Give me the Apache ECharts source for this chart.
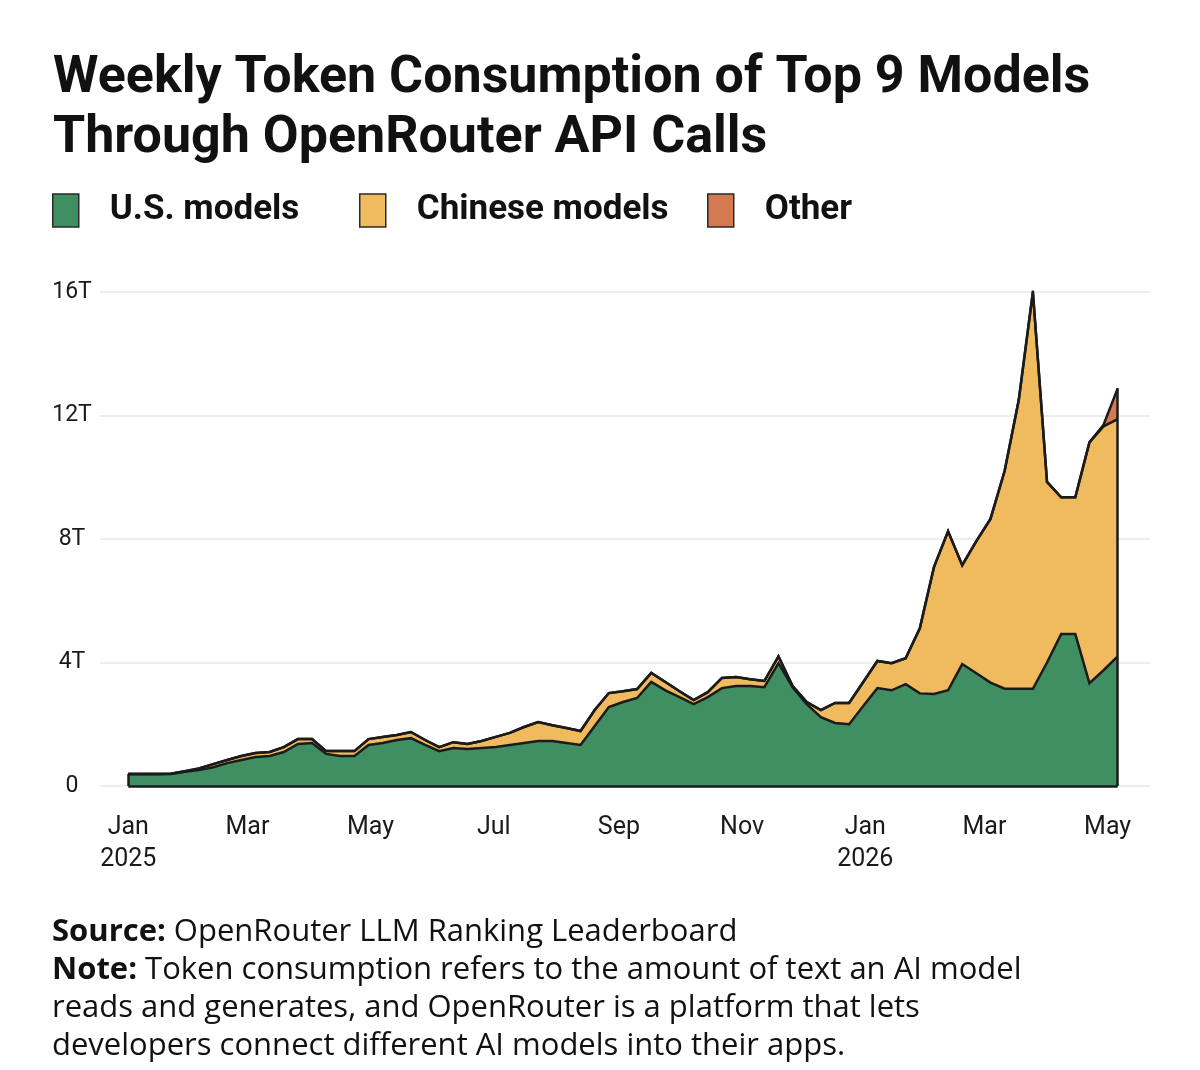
<!DOCTYPE html>
<html>
<head>
<meta charset="utf-8">
<script src="https://cdn.jsdelivr.net/npm/echarts@6/dist/echarts.min.js"></script>
<style>
  html, body { margin: 0; padding: 0; background: #fff; }
  #chart { width: 1200px; height: 1070px; }
</style>
</head>
<body>
<div id="chart"></div>
<script>
// weekly buckets (week starting)
const weeks = [
  '2025-01-01','2025-01-08','2025-01-15','2025-01-22','2025-01-29','2025-02-05','2025-02-12','2025-02-19',
  '2025-02-26','2025-03-05','2025-03-12','2025-03-19','2025-03-26','2025-04-02','2025-04-09','2025-04-16',
  '2025-04-23','2025-04-30','2025-05-07','2025-05-14','2025-05-21','2025-05-28','2025-06-04','2025-06-11',
  '2025-06-18','2025-06-25','2025-07-02','2025-07-09','2025-07-16','2025-07-23','2025-07-30','2025-08-06',
  '2025-08-13','2025-08-20','2025-08-27','2025-09-03','2025-09-10','2025-09-17','2025-09-24','2025-10-01',
  '2025-10-08','2025-10-15','2025-10-22','2025-10-29','2025-11-05','2025-11-12','2025-11-19','2025-11-26',
  '2025-12-03','2025-12-10','2025-12-17','2025-12-24','2025-12-31','2026-01-07','2026-01-14','2026-01-21',
  '2026-01-28','2026-02-04','2026-02-11','2026-02-18','2026-02-25','2026-03-04','2026-03-11','2026-03-18',
  '2026-03-25','2026-04-01','2026-04-08','2026-04-15','2026-04-22','2026-04-29','2026-05-06'
];

// trillions of tokens
const usModels = [
  0.39, 0.39, 0.39, 0.39, 0.46, 0.52, 0.61, 0.74, 0.84, 0.94, 0.97, 1.10, 1.36, 1.39, 1.04, 0.97,
  0.97, 1.33, 1.39, 1.49, 1.55, 1.33, 1.13, 1.23, 1.20, 1.23, 1.26, 1.33, 1.39, 1.46, 1.46, 1.39,
  1.33, 1.94, 2.56, 2.72, 2.85, 3.37, 3.10, 2.88, 2.65, 2.88, 3.17, 3.24, 3.24, 3.20, 3.98, 3.20,
  2.65, 2.23, 2.04, 2.00, 2.59, 3.17, 3.10, 3.30, 3.00, 2.98, 3.10, 3.95, 3.65, 3.35, 3.15, 3.15,
  3.15, 4.00, 4.92, 4.92, 3.33, 3.75, 4.20
];
const chineseModels = [
  0.00, 0.00, 0.00, 0.01, 0.02, 0.05, 0.10, 0.10, 0.13, 0.13, 0.13, 0.16, 0.16, 0.13, 0.09, 0.16,
  0.16, 0.19, 0.20, 0.16, 0.20, 0.16, 0.13, 0.19, 0.16, 0.23, 0.33, 0.39, 0.52, 0.61, 0.51, 0.49,
  0.45, 0.52, 0.45, 0.35, 0.29, 0.29, 0.27, 0.19, 0.13, 0.16, 0.33, 0.29, 0.22, 0.20, 0.22, 0.04,
  0.07, 0.23, 0.65, 0.69, 0.78, 0.88, 0.88, 0.84, 2.11, 4.11, 5.15, 3.20, 4.28, 5.30, 7.05, 9.35,
  12.85, 5.85, 4.43, 4.43, 7.80, 7.90, 7.68
];
const otherModels = [
  0, 0, 0, 0, 0, 0, 0, 0, 0, 0, 0, 0, 0, 0, 0, 0,
  0, 0, 0, 0, 0, 0, 0, 0, 0, 0, 0, 0, 0, 0, 0, 0,
  0, 0, 0, 0, 0, 0, 0, 0, 0, 0, 0, 0, 0, 0, 0, 0,
  0, 0, 0, 0, 0, 0, 0, 0, 0, 0, 0, 0, 0, 0, 0, 0,
  0, 0, 0, 0, 0, 0.05, 1.00
];

const tickDates = ['2025-01-01','2025-03-01','2025-05-01','2025-07-01','2025-09-01','2025-11-01','2026-01-01','2026-03-01','2026-05-01'];
const tickLabels = ['Jan\n2025','Mar','May','Jul','Sep','Nov','Jan\n2026','Mar','May'];
const yTicks = [0, 4, 8, 12, 16];

const GREEN = '#3f8f63';
const TAN = '#f0bb5f';
const RUST = '#d47a52';
const INK = '#1b1b1b';
const FONT = 'Roboto, "Noto Sans", sans-serif';

const X_MIN = '2024-12-18';
const X_MAX = '2026-05-22';

const toTime = d => +echarts.time.parse(d);
const tickTimes = tickDates.map(toTime);
const last = weeks.length - 1;
const firstTotal = usModels[0] + chineseModels[0] + otherModels[0];
const lastTotal = usModels[last] + chineseModels[last] + otherModels[last];

function pairs(values) {
  return weeks.map((w, i) => [w, values[i]]);
}

function areaSeries(name, values, color) {
  return {
    name: name,
    type: 'line',
    stack: 'total',
    xAxisIndex: 0,
    data: pairs(values),
    showSymbol: false,
    symbol: 'none',
    itemStyle: { color: color },
    lineStyle: { color: INK, width: 2.5, join: 'miter' },
    areaStyle: { color: color, opacity: 1 },
    emphasis: { disabled: true }
  };
}

const series = [
  areaSeries('U.S. models', usModels, GREEN),
  areaSeries('Chinese models', chineseModels, TAN),
  areaSeries('Other', otherModels, RUST)
];

// outline the left, right and bottom edges of the stacked area
series[2].markLine = {
  silent: true,
  symbol: 'none',
  label: { show: false },
  lineStyle: { color: INK, width: 2.5, type: 'solid' },
  data: [
    [{ coord: [weeks[0], 0] }, { coord: [weeks[0], firstTotal] }],
    [{ coord: [weeks[last], 0] }, { coord: [weeks[last], lastTotal] }],
    [{ coord: [weeks[0], 0] }, { coord: [weeks[last], 0] }]
  ]
};

function legendItem(name, left) {
  return {
    data: [name],
    left: left,
    top: 188,
    icon: 'rect',
    itemWidth: 26,
    itemHeight: 33,
    selectedMode: false,
    itemStyle: { borderColor: '#2a2a2a', borderWidth: 1.5 },
    textStyle: {
      fontFamily: FONT,
      fontSize: 35,
      fontWeight: 'bold',
      color: '#111',
      padding: [0, 0, 0, 26]
    }
  };
}

const chart = echarts.init(document.getElementById('chart'), null, { renderer: 'canvas' });

const option = {
  backgroundColor: '#fff',
  animation: false,
  title: {
    text: 'Weekly Token Consumption of Top 9 Models\nThrough OpenRouter API Calls',
    left: 48,
    top: 44,
    textStyle: {
      fontFamily: FONT,
      fontSize: 52,
      fontWeight: 'bold',
      lineHeight: 60,
      color: '#111'
    }
  },
  legend: [
    legendItem('U.S. models', 47),
    legendItem('Chinese models', 354),
    legendItem('Other', 702)
  ],
  grid: { left: 100, right: 50, top: 292, bottom: 284 },
  xAxis: [
    {
      // axis the series are plotted on
      type: 'time',
      min: X_MIN,
      max: X_MAX,
      axisLine: { show: false },
      axisTick: { show: false },
      axisLabel: { show: false },
      splitLine: { show: false }
    },
    {
      // same range, only used for the month labels
      type: 'value',
      position: 'bottom',
      min: toTime(X_MIN),
      max: toTime(X_MAX),
      axisLine: { show: false },
      axisTick: { show: false },
      splitLine: { show: false },
      axisLabel: {
        customValues: tickTimes,
        margin: 26,
        fontFamily: FONT,
        fontSize: 25,
        lineHeight: 32,
        color: '#1a1a1a',
        formatter: function (value) {
          let best = 0;
          tickTimes.forEach((t, i) => {
            if (Math.abs(t - value) < Math.abs(tickTimes[best] - value)) best = i;
          });
          return tickLabels[best];
        }
      }
    }
  ],
  yAxis: {
    type: 'value',
    min: yTicks[0],
    max: yTicks[yTicks.length - 1],
    interval: 4,
    axisLine: { show: false },
    axisTick: { show: false },
    splitLine: { lineStyle: { color: '#e8e8e8', width: 1.5 } },
    axisLabel: {
      margin: 28,
      align: 'center',
      fontFamily: FONT,
      fontSize: 23,
      color: '#1a1a1a',
      formatter: v => (v === 0 ? '0' : v + 'T')
    }
  },
  graphic: [
    {
      type: 'text',
      left: 52,
      top: 913,
      style: {
        text: '{b|Source:} OpenRouter LLM Ranking Leaderboard\n{b|Note:} Token consumption refers to the amount of text an AI model\nreads and generates, and OpenRouter is a platform that lets\ndevelopers connect different AI models into their apps.',
        font: '31px "Open Sans", sans-serif',
        fill: '#111',
        lineHeight: 38,
        rich: {
          b: { fontFamily: '"Open Sans", sans-serif', fontSize: 31, fontWeight: 'bold', fill: '#111', lineHeight: 38 }
        }
      }
    }
  ],
  series: series
};

chart.setOption(option);
</script>
</body>
</html>
